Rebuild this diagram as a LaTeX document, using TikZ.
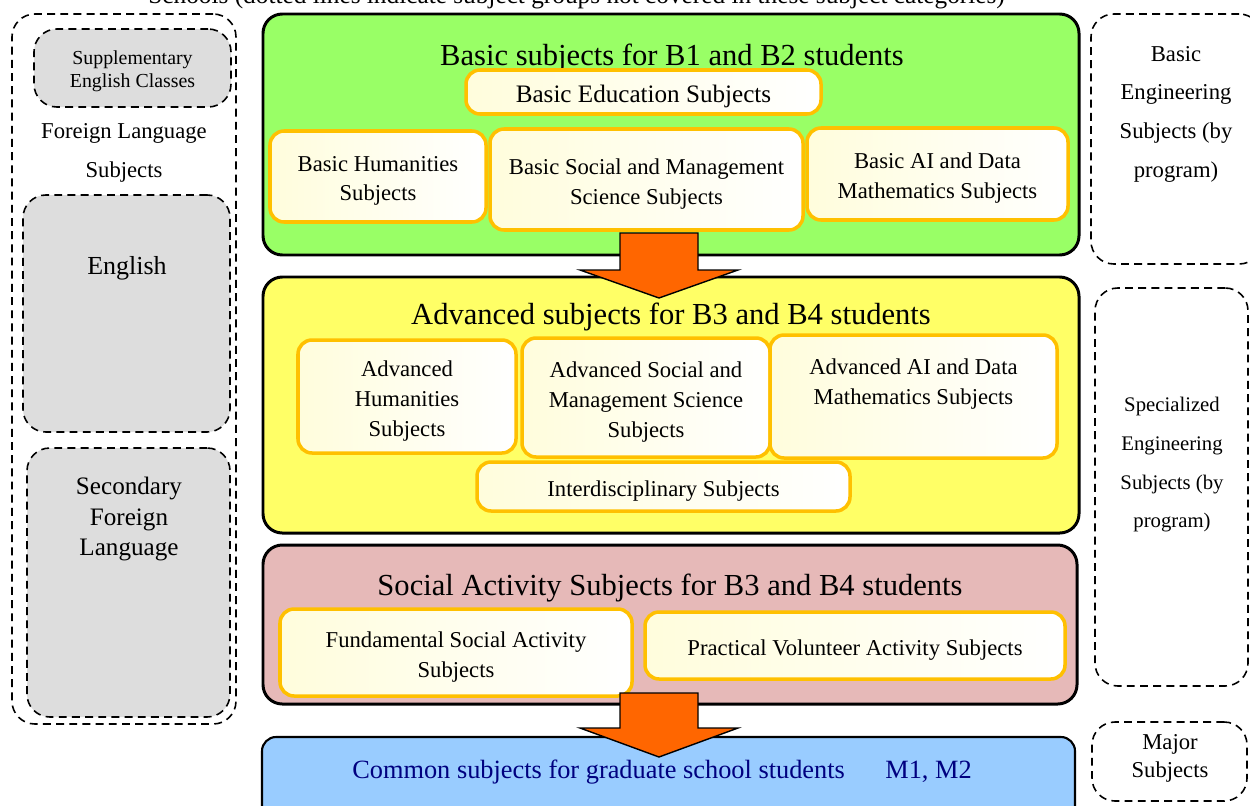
\documentclass[tikz,border=0pt]{standalone}
\usepackage{fontspec}
\setmainfont{Liberation Serif}
\usetikzlibrary{fit,positioning}
\definecolor{BasicFill}{HTML}{99FF66}
\definecolor{AdvFill}{HTML}{FFFF66}
\definecolor{SocialFill}{HTML}{E6B9B8}
\definecolor{GradFill}{HTML}{99CCFF}
\definecolor{GradText}{HTML}{000080}
\definecolor{ItemEdge}{HTML}{FFC000}
\definecolor{ItemFill}{HTML}{FFFDDC}
\definecolor{ArrowFill}{HTML}{FF6600}
\definecolor{LangFill}{HTML}{DDDDDD}
\newcommand{\fs}[2]{\fontsize{#1}{#2}\selectfont}
\tikzset{group/.style={draw=black,line width=1.7pt,rounded corners=11pt,inner sep=0pt},
 item/.style={draw=ItemEdge,left color=ItemFill,right color=white,line width=2pt,
 rounded corners=8pt,inner sep=0pt,label={[align=center,yshift=-2.5pt,font=\fs{12.9}{17}]center:#1}},
 extra/.style={draw=black,dash pattern=on 4.5pt off 3pt,line width=.9pt,
 rounded corners=13pt,inner sep=0pt},
 heading/.style={font=\fs{17.4}{21}},
 bigarrow/.style={draw=black,fill=ArrowFill,line width=.8pt}}
\begin{document}
\begin{tikzpicture}[x=.02cm,y=-.02cm]
\useasboundingbox (0,0) rectangle (1250,805);
\node[anchor=base west,inner sep=0pt,font=\fs{14.4}{17}] (note) at (148,3)
 {Schools (dotted lines indicate subject groups not covered in these subject categories)};
% foreign languages
\node[extra,fit={(12,14)(236,724)}] (lang) {};
\node[extra,fill=LangFill,fit={(34,29)(231,107)},
 label={[align=center,yshift=-2pt,font=\fs{11.3}{13}]center:Supplementary\\English Classes}] (supp) {};
\node[align=center,font=\fs{12.9}{22}] (langname) at (124,153) {Foreign Language\\Subjects};
\node[extra,fill=LangFill,fit={(23,195)(230,432)}] (eng) {};
\node[font=\fs{14.8}{18}] (engname) at (127,268) {English};
\node[extra,fill=LangFill,fit={(27,448)(230,717)}] (sec) {};
\node[align=center,font=\fs{14.3}{17.6}] (secname) at (129,519) {Secondary\\Foreign\\Language};
% engineering and major
\node[extra,fit={(1091,14)(1262,264)}] (beng) {};
\node[align=center,font=\fs{12.9}{22}] (bengname) at (1176,114) {Basic\\Engineering\\Subjects (by\\program)};
\node[extra,fit={(1095,288)(1248,686)}] (seng) {};
\node[align=center,font=\fs{11.8}{22}] (sengname) at (1172,465) {Specialized\\Engineering\\Subjects (by\\program)};
\node[extra,fit={(1092,722)(1247,801)}] (major) {};
\node[align=center,font=\fs{12.9}{16}] (majorname) at (1170,758) {Major\\Subjects};
% B1 and B2
\node[group,fill=BasicFill,fit={(263,14)(1079,255)}] (basic) {};
\node[heading] (basicname) at (672,58) {Basic subjects for B1 and B2 students};
\node[item={\fs{14.3}{17}Basic Education Subjects},fit={(466,70)(821,114)}] (bedu) {};
\node[item={Basic Humanities\\Subjects},fit={(270,131)(486,222)}] (bhum) {};
\node[item={Basic Social and Management\\Science Subjects},fit={(490,129)(803,230)}] (bsoc) {};
\node[item={Basic AI and Data\\Mathematics Subjects},fit={(807,128)(1068,220)}] (bai) {};
% B3 and B4
\node[group,fill=AdvFill,fit={(263,277)(1079,533)}] (adv) {};
\node[heading] (advname) at (671,317) {Advanced subjects for B3 and B4 students};
\node[item={Advanced\\Humanities\\Subjects},fit={(298,340)(516,453)}] (ahum) {};
\node[item={Advanced Social and\\Management Science\\Subjects},fit={(522,338)(770,457)}] (asoc) {};
\node[item={Advanced AI and Data\\Mathematics Subjects\\[5pt]\mbox{}},fit={(770,335)(1057,458)}] (aai) {};
\node[item={Interdisciplinary Subjects},fit={(477,462)(850,511)}] (inter) {};
% social activity
\node[group,fill=SocialFill,fit={(263,545)(1077,704)}] (social) {};
\node[heading] (socialname) at (670,588) {Social Activity Subjects for B3 and B4 students};
\node[item={Fundamental Social Activity\\Subjects},fit={(280,609)(632,696)}] (fund) {};
\node[item={Practical Volunteer Activity Subjects},fit={(645,612)(1065,679)}] (prac) {};
% graduate school
\node[group,line width=1.2pt,rounded corners=8pt,fill=GradFill,fit={(262,737)(1075,850)}] (grad) {};
\node[text=GradText,font=\fs{15}{18}] (gradname) at (662,772)
 {Common subjects for graduate school students\hspace{23pt}M1, M2};
\foreach \y/\s/\h in {233/37/28,693/35/29}
 \draw[bigarrow] (659,\y) ++(-39,0) -- ++(78,0) -- ++(0,\s) -- ++(40,0) -- ++(-79,\h)
 -- ++(-79,-\h) -- ++(40,0) -- cycle;
\end{tikzpicture}
\end{document}
